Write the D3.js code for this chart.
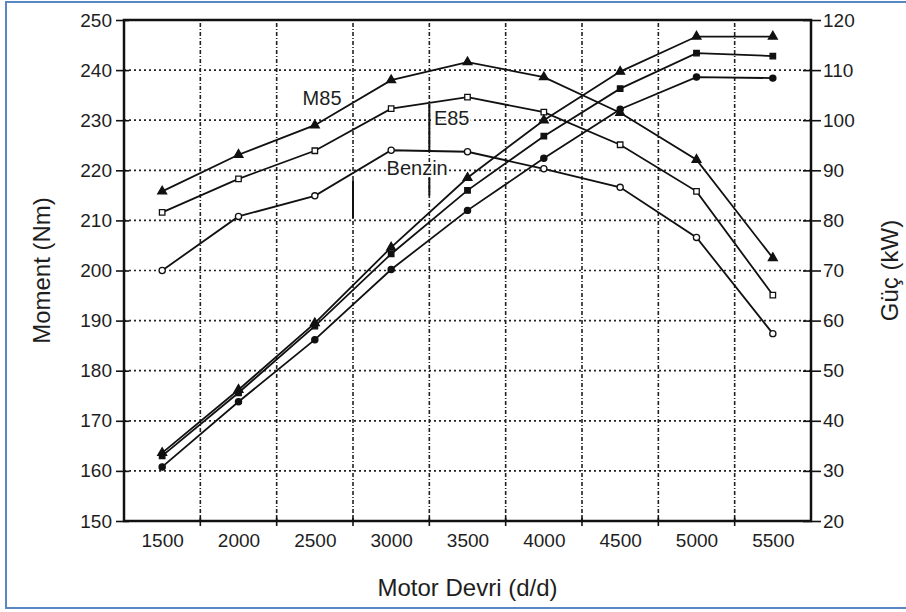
<!DOCTYPE html>
<html>
<head>
<meta charset="utf-8">
<title>Moment ve Güç</title>
<style>
  body { margin: 0; background: #fff; }
  svg text { font-family: "Liberation Sans", Arial, sans-serif; fill: #1e1e1e; }
</style>
</head>
<body>
<script src="https://d3js.org/d3.v7.min.js"></script>
<script>
const rpm = [1500, 2000, 2500, 3000, 3500, 4000, 4500, 5000, 5500];

// moment (Nm) - left axis
const momentM85    = [215.8, 223.1, 229.0, 238.0, 241.6, 238.6, 231.5, 222.1, 202.5];
const momentE85    = [211.6, 218.3, 223.9, 232.3, 234.6, 231.6, 225.1, 215.8, 195.1];
const momentBenzin = [200.0, 210.8, 214.9, 224.0, 223.7, 220.3, 216.6, 206.6, 187.4];

// güç (kW) - right axis
const gucM85    = [33.6, 46.2, 59.5, 74.6, 88.5, 100.0, 109.7, 116.7, 116.7];
const gucE85    = [33.0, 45.6, 58.9, 73.3, 86.0, 96.8, 106.3, 113.4, 112.8];
const gucBenzin = [30.8, 43.8, 56.2, 70.2, 82.0, 92.4, 102.2, 108.6, 108.4];

const momentTicks = [150, 160, 170, 180, 190, 200, 210, 220, 230, 240, 250];
const gucTicks = [20, 30, 40, 50, 60, 70, 80, 90, 100, 110, 120];
const gridRpm = [1750, 2250, 2750, 3250, 3750, 4250, 4750, 5250];

// series labels (rpm, Nm at baseline)
const labelNames = ["M85", "E85", "Benzin"];
const labelRpm = [2420, 3280, 2970];
const labelMoment = [233.0, 229.0, 219.1];

// darker leader segments on the grid (rpm, from Nm, to Nm)
const leaderRpm = [3250, 3250, 2750];
const leaderFrom = [233.2, 218.5, 218.0];
const leaderTo = [223.8, 215.0, 210.5];

const width = 906, height = 612;
const plotLeft = 124, plotRight = 811, plotTop = 20, plotBottom = 521;

const svg = d3.select("body").append("svg")
    .attr("width", width)
    .attr("height", height);

// outer blue frame (right edge falls outside the picture)
svg.append("rect")
    .attr("x", 6).attr("y", 2)
    .attr("width", 920).attr("height", 606)
    .attr("fill", "none")
    .attr("stroke", "#5a86c4")
    .attr("stroke-width", 2);

const x = d3.scaleLinear().domain([1250, 5750]).range([plotLeft, plotRight]);
const yL = d3.scaleLinear().domain([150, 250]).range([plotBottom, plotTop]);
const yR = d3.scaleLinear().domain([20, 120]).range([plotBottom, plotTop]);

// grid
svg.append("g").selectAll("line")
    .data(momentTicks.slice(1, -1))
    .enter().append("line")
    .attr("x1", plotLeft).attr("x2", plotRight)
    .attr("y1", d => yL(d)).attr("y2", d => yL(d))
    .attr("stroke", "#222")
    .attr("stroke-width", 1.7)
    .attr("stroke-dasharray", "2,3");

svg.append("g").selectAll("line")
    .data(gridRpm)
    .enter().append("line")
    .attr("x1", d => x(d)).attr("x2", d => x(d))
    .attr("y1", plotTop).attr("y2", plotBottom)
    .attr("stroke", "#222")
    .attr("stroke-width", 1.6)
    .attr("stroke-dasharray", "1,2,4,2");

// leader segments
svg.append("g").selectAll("line")
    .data(leaderRpm)
    .enter().append("line")
    .attr("x1", d => x(d)).attr("x2", d => x(d))
    .attr("y1", (d, i) => yL(leaderFrom[i]))
    .attr("y2", (d, i) => yL(leaderTo[i]))
    .attr("stroke", "#111")
    .attr("stroke-width", 2);

// axes
const fontSize = "19px";

const leftAxis = svg.append("g")
    .attr("transform", "translate(" + plotLeft + ",0)")
    .call(d3.axisLeft(yL).tickValues(momentTicks).tickSize(8).tickPadding(4));
leftAxis.selectAll("line").attr("x1", 5);

const rightAxis = svg.append("g")
    .attr("transform", "translate(" + plotRight + ",0)")
    .call(d3.axisRight(yR).tickValues(gucTicks).tickSize(8).tickPadding(4));
rightAxis.selectAll("line").attr("x1", -8).attr("x2", 10);

const bottomAxis = svg.append("g")
    .attr("transform", "translate(0," + plotBottom + ")")
    .call(d3.axisBottom(x).tickValues(rpm).tickFormat(d3.format("d")).tickSize(0).tickPadding(13));

[leftAxis, rightAxis, bottomAxis].forEach(a => {
    a.select(".domain").remove();
    a.selectAll("line").attr("stroke", "#111").attr("stroke-width", 1.6);
    a.selectAll("text").style("font-size", fontSize).attr("fill", "#1e1e1e");
});

// small ticks on bottom axis at the grid lines
svg.append("g").selectAll("line")
    .data(gridRpm)
    .enter().append("line")
    .attr("x1", d => x(d)).attr("x2", d => x(d))
    .attr("y1", plotBottom - 5).attr("y2", plotBottom + 5)
    .attr("stroke", "#111")
    .attr("stroke-width", 1.6);

// plot frame
svg.append("rect")
    .attr("x", plotLeft).attr("y", plotTop)
    .attr("width", plotRight - plotLeft).attr("height", plotBottom - plotTop)
    .attr("fill", "none")
    .attr("stroke", "#111")
    .attr("stroke-width", 2.5);

// series labels, with a white halo that breaks the grid behind them
svg.append("g").selectAll("text")
    .data(labelNames)
    .enter().append("text")
    .attr("x", (d, i) => x(labelRpm[i]))
    .attr("y", (d, i) => yL(labelMoment[i]))
    .style("font-size", "20px")
    .attr("stroke", "#fff")
    .attr("stroke-width", 4)
    .attr("paint-order", "stroke")
    .text(d => d);

// series
const series = [
    { values: momentM85, y: yL, shape: "triangle", filled: true },
    { values: momentE85, y: yL, shape: "square", filled: false },
    { values: momentBenzin, y: yL, shape: "circle", filled: false },
    { values: gucM85, y: yR, shape: "triangle", filled: true },
    { values: gucE85, y: yR, shape: "square", filled: true },
    { values: gucBenzin, y: yR, shape: "circle", filled: true }
];

const symbols = {
    triangle: d3.symbol().type(d3.symbolTriangle).size(34),
    square: d3.symbol().type(d3.symbolSquare).size(30),
    circle: d3.symbol().type(d3.symbolCircle).size(30)
};

series.forEach(s => {
    const line = d3.line()
        .x((d, i) => x(rpm[i]))
        .y(d => s.y(d));

    svg.append("path")
        .datum(s.values)
        .attr("d", line)
        .attr("fill", "none")
        .attr("stroke", "#111")
        .attr("stroke-width", 1.8);

    svg.append("g").selectAll("path")
        .data(s.values)
        .enter().append("path")
        .attr("d", symbols[s.shape])
        .attr("transform", (d, i) => "translate(" + x(rpm[i]) + "," + s.y(d) + ")")
        .attr("fill", s.filled ? "#111" : "#fff")
        .attr("stroke", "#111")
        .attr("stroke-width", 1.3);
});

// axis titles
svg.append("text")
    .attr("transform", "translate(50," + (plotTop + plotBottom) / 2 + ") rotate(-90)")
    .attr("text-anchor", "middle")
    .style("font-size", "24px")
    .text("Moment (Nm)");

svg.append("text")
    .attr("transform", "translate(898," + (plotTop + plotBottom) / 2 + ") rotate(-90)")
    .attr("text-anchor", "middle")
    .style("font-size", "24px")
    .text("Güç (kW)");

svg.append("text")
    .attr("x", (plotLeft + plotRight) / 2)
    .attr("y", 596)
    .attr("text-anchor", "middle")
    .style("font-size", "24px")
    .text("Motor Devri (d/d)");
</script>
</body>
</html>
